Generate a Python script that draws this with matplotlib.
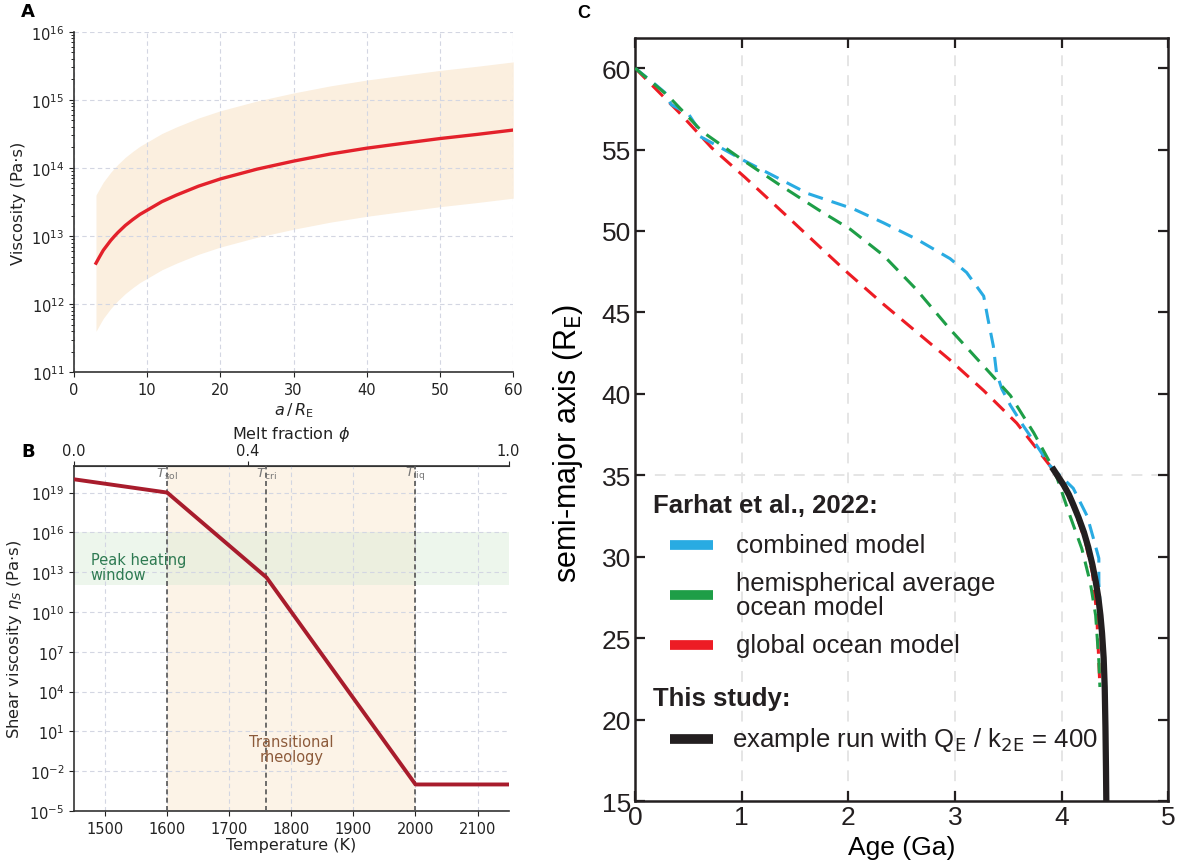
import numpy as np
import matplotlib.pyplot as plt
from matplotlib.lines import Line2D

# ---- panel A: viscosity vs semi-major axis
a_re = [3, 3.5, 4, 4.5, 5, 5.5, 6, 7, 8, 9, 10, 12, 14, 17, 20, 25, 30, 35, 40, 45, 50, 55, 60]
visc_mid = [4.0e12, 5.0e12, 6.2e12, 7.3e12, 8.6e12, 9.9e12, 1.13e13, 1.43e13, 1.74e13,
            2.08e13, 2.4e13, 3.2e13, 4.0e13, 5.4e13, 6.9e13, 9.6e13, 1.26e14, 1.6e14,
            1.95e14, 2.3e14, 2.7e14, 3.1e14, 3.6e14]
visc_hi = [4.0e13, 5.0e13, 6.2e13, 7.3e13, 8.6e13, 9.9e13, 1.13e14, 1.43e14, 1.74e14,
           2.08e14, 2.4e14, 3.2e14, 4.0e14, 5.4e14, 6.9e14, 9.6e14, 1.26e15, 1.6e15,
           1.95e15, 2.3e15, 2.7e15, 3.1e15, 3.6e15]
visc_lo = [4.0e11, 5.0e11, 6.2e11, 7.3e11, 8.6e11, 9.9e11, 1.13e12, 1.43e12, 1.74e12,
           2.08e12, 2.4e12, 3.2e12, 4.0e12, 5.4e12, 6.9e12, 9.6e12, 1.26e13, 1.6e13,
           1.95e13, 2.3e13, 2.7e13, 3.1e13, 3.6e13]

# ---- panel B: shear viscosity vs temperature
temp_k = [1450, 1600, 1760, 2000, 2150]
eta_s = [1e20, 1e19, 4e12, 1e-3, 1e-3]
t_marks = [1600, 1760, 2000]
t_names = [r'$T_\mathrm{sol}$', r'$T_\mathrm{cri}$', r'$T_\mathrm{liq}$']
phi_ticks = [0.0, 0.4, 1.0]

# ---- panel C: semi-major axis vs age
age_red = [0, 0.41, 0.72, 1.03, 1.41, 1.72, 2.0, 2.33, 2.64, 2.95, 3.27, 3.58, 3.89,
           4.02, 4.12, 4.22, 4.29, 4.33, 4.36]
sma_red = [60, 57.3, 55.1, 53.3, 51.0, 49.1, 47.4, 45.5, 43.8, 42.1, 40.2, 38.2, 35.6,
           34.3, 32.9, 31.0, 29.0, 26.5, 22.0]

age_green = [0, 0.31, 0.63, 1.0, 1.34, 1.72, 2.02, 2.33, 2.64, 2.95, 3.27, 3.52, 3.74,
             3.89, 3.96, 4.08, 4.19, 4.27, 4.32, 4.35, 4.36]
sma_green = [60, 58.3, 56.1, 54.4, 52.9, 51.3, 50.1, 48.5, 46.4, 44.0, 41.7, 39.9, 37.6,
             35.8, 34.8, 32.5, 30.5, 28.4, 26.4, 23.6, 22.0]

age_blue = [0, 0.19, 0.28, 0.34, 0.5, 0.58, 0.61, 0.78, 1.0, 1.31, 1.62, 2.05, 2.33, 2.64,
            2.955, 3.11, 3.27, 3.31, 3.36, 3.39, 3.44, 3.52, 3.64, 3.77, 3.89, 4.0, 4.11,
            4.24, 4.30, 4.35, 4.35, 4.36, 4.38]
sma_blue = [60, 59.0, 58.5, 57.75, 57.2, 56.4, 55.8, 55.2, 54.4, 53.35, 52.3, 51.35, 50.5,
            49.5, 48.3, 47.45, 46.0, 44.6, 42.95, 41.3, 40.3, 39.3, 38.05, 36.8, 35.6, 34.9,
            34.2, 32.5, 31.1, 29.9, 28.4, 27.2, 25.0]

age_black = [3.91, 3.97, 4.02, 4.07, 4.11, 4.16, 4.21, 4.25, 4.29, 4.32, 4.345, 4.365,
             4.38, 4.395, 4.405, 4.412, 4.417, 4.42]
sma_black = [35.5, 34.9, 34.4, 33.8, 33.2, 32.4, 31.5, 30.6, 29.5, 28.5, 27.5, 26.4,
             25.3, 23.8, 22.0, 19.5, 17.0, 15.0]

fig = plt.figure(figsize=(11.79, 8.62), dpi=100)
spine_c = '#333333'
grid_kw = dict(color='#d3d6e2', ls=(0, (4, 3)), lw=0.8)

# ---------------- A
axA = fig.add_axes([0.0628, 0.5669, 0.3725, 0.3952])
axA.fill_between(a_re, visc_lo, visc_hi, color='#fbefdf', lw=0, zorder=1)
axA.plot(a_re, visc_mid, color='#e3212b', lw=2.4, zorder=3)
axA.set_yscale('log')
axA.set_xlim(0, 60)
axA.set_ylim(1e11, 1e16)
axA.set_xticks(range(0, 61, 10))
axA.grid(True, which='major', **grid_kw)
axA.set_xlabel(r'$a\,/\,R_\mathrm{E}$', fontsize=11.5, color='#222222', labelpad=2)
axA.set_ylabel('Viscosity (Pa·s)', fontsize=11.8, color='#222222')
for s in ['top', 'right']:
    axA.spines[s].set_visible(False)
for s in ['left', 'bottom']:
    axA.spines[s].set_color(spine_c)
    axA.spines[s].set_linewidth(1.2)
axA.tick_params(labelsize=10.5, colors='#222222')

# ---------------- B
axB = fig.add_axes([0.0628, 0.0580, 0.3686, 0.4002])
axB.axvspan(t_marks[0], t_marks[2], color='#fcf3e7', lw=0, zorder=0)
axB.axhspan(1e12, 1e16, color='#d9ecd6', alpha=0.45, lw=0, zorder=0.5)
axB.plot(temp_k, eta_s, color='#a81c2c', lw=2.8, zorder=4)
for t, nm in zip(t_marks, t_names):
    axB.axvline(t, color='#555555', ls=(0, (3, 2)), lw=1.2, zorder=3)
    axB.text(t, 3e20, nm, ha='center', va='center', fontsize=9.5, color='#777777', zorder=5)
axB.set_yscale('log')
axB.set_xlim(1450, 2150)
axB.set_ylim(1e-5, 1e21)
axB.set_yticks([10.0 ** e for e in range(-5, 20, 3)])
axB.yaxis.set_minor_locator(plt.NullLocator())
axB.set_xticks(range(1500, 2101, 100))
axB.grid(True, which='major', **grid_kw)
axB.text(1477, 2.5e13, 'Peak heating\nwindow', fontsize=10.5, color='#2e7a52',
         va='center', ha='left', linespacing=1.0, zorder=5)
axB.text(1800, 0.5, 'Transitional\nrheology', fontsize=10.5, color='#8c5a3a',
         va='center', ha='center', linespacing=1.0, zorder=5)
axB.set_xlabel('Temperature (K)', fontsize=11.5, color='#222222', labelpad=1)
axB.set_ylabel(r'Shear viscosity $\eta_S$ (Pa·s)', fontsize=11.8, color='#222222')
axB.spines['right'].set_visible(False)
for s in ['left', 'bottom', 'top']:
    axB.spines[s].set_color(spine_c)
    axB.spines[s].set_linewidth(1.2)
axB.tick_params(labelsize=10.5, colors='#222222')

top = axB.secondary_xaxis('top', functions=(lambda t: (t - 1450) / 700.0,
                                             lambda p: 1450 + 700.0 * p))
top.set_xticks(phi_ticks)
top.set_xticklabels(['0.0', '0.4', '1.0'])
top.tick_params(labelsize=10.5, colors='#222222', pad=2)
top.set_xlabel(r'Melt fraction $\phi$', fontsize=11.5, color='#222222', labelpad=4)
top.spines['top'].set_color(spine_c)

# ---------------- C
fam = ['Liberation Sans Narrow', 'Liberation Sans', 'DejaVu Sans']
axC = fig.add_axes([0.5386, 0.0696, 0.4522, 0.8852])
for x in [1, 2, 3, 4]:
    axC.axvline(x, color='#e3e3e3', ls=(0, (6, 5)), lw=1.3, zorder=0)
axC.axhline(35, color='#e3e3e3', ls=(0, (6, 5)), lw=1.3, zorder=0)
dash = (0, (5, 3))
axC.plot(age_red, sma_red, color='#ed1c24', lw=2.2, ls=dash, zorder=2)
axC.plot(age_green, sma_green, color='#1e9e47', lw=2.2, ls=dash, zorder=3)
axC.plot(age_blue, sma_blue, color='#29abe2', lw=2.2, ls=dash, zorder=2.5)
axC.plot(age_black, sma_black, color='#231f20', lw=4.5, solid_capstyle='butt', zorder=4)
axC.set_xlim(0, 5)
axC.set_ylim(15, 61.85)
axC.set_xticks(range(0, 6))
axC.set_yticks(range(15, 61, 5))
axC.tick_params(direction='in', length=7, width=1.6, top=True, right=True,
                labelsize=19, colors='#231f20', pad=3)
for lab in axC.get_xticklabels() + axC.get_yticklabels():
    lab.set_family(fam)
for s in axC.spines.values():
    s.set_color('#231f20')
    s.set_linewidth(1.8)
axC.set_xlabel('Age (Ga)', fontsize=19, family=fam, labelpad=4)
axC.set_ylabel(r'semi-major axis (R$_\mathrm{E}$)', fontsize=22, family=fam)
axC.yaxis.set_label_coords(-0.094, 0.47)

# legend drawn by hand
tx = dict(transform=axC.transAxes, family=fam, color='#231f20', va='center')
axC.text(0.034, 0.388, 'Farhat et al., 2022:', fontsize=18.5, fontweight='bold', **tx)
leg_rows = [(0.335, '#29abe2', 'combined model'),
            (0.270, '#1e9e47', 'hemispherical average\nocean model'),
            (0.204, '#ed1c24', 'global ocean model'),
            (0.0813, '#231f20', r'example run with Q$_\mathrm{E}$ / k$_\mathrm{2E}$ = 400')]
for yy, col, txt in leg_rows:
    axC.add_line(Line2D([0.0657, 0.1456], [yy, yy], transform=axC.transAxes,
                        color=col, lw=7, solid_capstyle='butt'))
    xt = 0.19 if col != '#231f20' else 0.182
    axC.text(xt, yy, txt, fontsize=18.5, linespacing=1.0, **tx)
axC.text(0.034, 0.1355, 'This study:', fontsize=18.5, fontweight='bold', **tx)

# panel letters
fig.text(0.024, 0.986, 'A', fontsize=13, fontweight='bold', va='center', ha='center')
fig.text(0.024, 0.476, 'B', fontsize=13, fontweight='bold', va='center', ha='center')
fig.text(0.495, 0.984, 'C', fontsize=13, fontweight='bold', va='center', ha='center',
         family=fam)

fig.savefig('out.png', dpi=100)
